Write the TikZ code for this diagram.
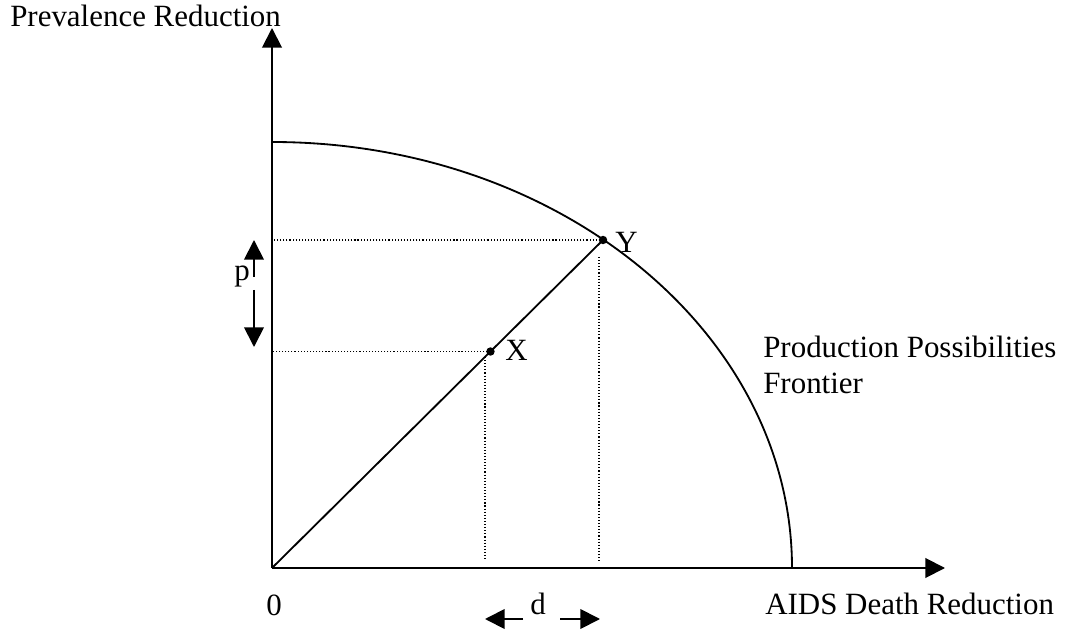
\documentclass[tikz,border=0pt]{standalone}
\usepackage{fontspec}
\setmainfont{Liberation Serif}
\usetikzlibrary{positioning,arrows.meta,calc}

\begin{document}
\begin{tikzpicture}[x=0.025cm, y=-0.025cm,
  axisline/.style={line width=1.4pt, -{Triangle[length=14pt,width=14pt]}},
  frontier/.style={line width=1.3pt},
  guide/.style={line width=0.8pt, dash pattern=on 0.8pt off 1.4pt},
  gap/.style={line width=1.3pt, -{Triangle[length=14pt,width=14pt]}},
  dotpt/.style={circle, fill, minimum size=6pt, inner sep=0pt},
  lbl/.style={font=\fontsize{22}{26}\selectfont, inner sep=0pt}
]
\useasboundingbox (0,0) rectangle (1072,635);
% axes
\coordinate (O) at (272,568);
\coordinate (ytop) at (272,28);
\coordinate (xend) at (945,568);
\draw[axisline] (O) -- (ytop);
\draw[axisline] (O) -- (xend);
% production possibilities frontier
\draw[frontier] (272,142) arc[start angle=-90, end angle=0, x radius=520, y radius=426];
% the two points on the ray
\node[dotpt] (Y) at (603,240) {};
\node[dotpt] (X) at ($(O)!0.66!(Y)$) {};
\draw[frontier] (O) -- (Y.center);
% dotted guides
\coordinate (Yd) at (599,257);
\coordinate (Xd) at (485,357);
\draw[guide] (Y.center) -- (Y -| O);
\draw[guide] (X.center) -- (X -| O);
\draw[guide] (Yd) -- ([yshift=5pt]Yd |- O);
\draw[guide] (Xd) -- ([yshift=5pt]Xd |- O);
% p : gap in prevalence
\node[lbl] (p) at (242,277) {p};
\coordinate (pa) at (254,277);
\coordinate (pat) at (254,240);
\coordinate (pb) at (254,290);
\coordinate (pbt) at (254,347);
\draw[gap] (pa) -- (pat);
\draw[gap] (pb) -- (pbt);
% d : gap in deaths
\node[lbl] (d) at (538,604) {d};
\coordinate (da) at (523,619);
\coordinate (dat) at (485,619);
\coordinate (db) at (560,619);
\coordinate (dbt) at (600,619);
\draw[gap] (da) -- (dat);
\draw[gap] (db) -- (dbt);
% labels
\node[lbl] (ylab) at (10,16) [anchor=west] {Prevalence Reduction};
\node[lbl] (zero) at (274,605) {0};
\node[lbl] (xlab) at (765,604) [anchor=west] {AIDS Death Reduction};
\node[lbl, align=left] (ppf) at (763,365) [anchor=west] {Production Possibilities\\Frontier};
\node[lbl] (Ylab) at (615,242) [anchor=west] {Y};
\node[lbl] (Xlab) at (505,350) [anchor=west] {X};
\end{tikzpicture}
\end{document}
